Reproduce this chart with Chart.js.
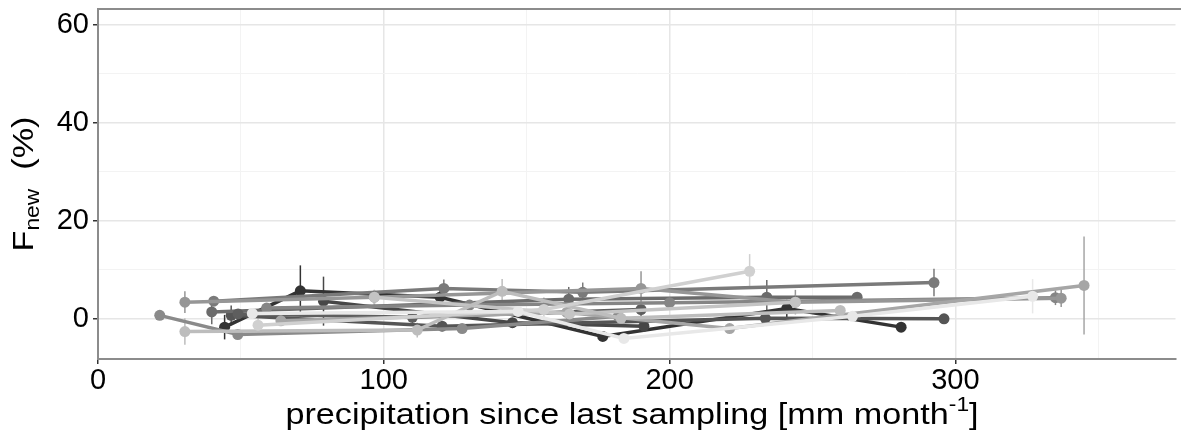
<!DOCTYPE html>
<html>
<head>
<meta charset="utf-8">
<script src="https://cdn.jsdelivr.net/npm/chart.js@4"></script>
<style>
  html, body { margin: 0; padding: 0; background: #fff; }
  #wrap { width: 1181px; height: 441px; }
</style>
</head>
<body>
<div id="wrap"><canvas id="myChart" width="1181" height="441"></canvas></div>
<script>
// DONNEES : une ligne par site (x = precipitation, y = Fnew, err = barre d'erreur)

const siteX = [
    [44.3, 70.8, 119.7, 176.6, 241, 281],
    [78.9, 145, 191],
    [46.6, 120.4, 233.5, 296],
    [39.8, 164.7, 234, 265.6],
    [49, 110, 190],
    [40.5, 121, 169.6, 292.5],
    [59, 130, 200, 335],
    [21.6, 48.9, 127.4, 182],
    [30.4, 96.7, 190, 244, 337],
    [64, 164, 221, 345],
    [96.7, 165, 244],
    [30.4, 111.7, 141.4, 183, 259.7],
    [56, 156, 228],
    [54, 147, 184, 264, 327],
];

const siteY = [
    [-1.7, 5.7, 4.4, -3.6, 2.1, -1.7],
    [3.6, -0.8, -1.5],
    [0.7, -1.5, 0.1, 0],
    [1.4, 4.0, 4.4, 4.4],
    [1.0, 0.3, 1.9],
    [3.6, 6.2, 5.4, 7.4],
    [2.2, 2.8, 3.3, 4.3],
    [0.7, -3.2, -2.0, 0.5],
    [3.4, 4.4, 6.2, 3.4, 4.2],
    [-0.4, 1.3, -2, 6.8],
    [4.4, 1.0, 3.4],
    [-2.6, -2.3, 5.6, 0.1, 1.7],
    [-1.3, 1.9, 9.7],
    [1.1, 1.5, -4, 0.5, 4.6],
];

const siteErr = [
    [2.5, 5.2, 1.5, 0.5, 1.8, 0.5],
    [5, 1, 0.5],
    [2, 0.5, 0.5, 0.5],
    [2.5, 2.5, 3.5, 0.5],
    [0.5, 1.5, 1.5],
    [0.5, 1.8, 2, 2.8],
    [0.5, 0.5, 0.5, 1.5],
    [0.5, 0.5, 0.5, 0.5],
    [2.2, 1.5, 3.5, 2.5, 1.8],
    [1, 3, 0.5, 10],
    [1.5, 2.5, 1.5],
    [2.7, 1.5, 2.5, 0.5, 0.5],
    [2, 2.5, 3.5],
    [0.5, 0.5, 0.5, 0.5, 3.5],
];

const xTicks = [0, 100, 200, 300];
const yTicks = [0, 20, 40, 60];

// couleurs (gris)
const greys = ['#333333', '#474747', '#555555', '#6b6b6b', '#5e5e5e', '#7a7a7a', '#858585',
               '#8a8a8a', '#969696', '#a6a6a6', '#c4c4c4', '#bdbdbd', '#d0d0d0', '#e8e8e8'];

const datasets = siteX.map((xs, i) => ({
    data: xs.map((x, j) => ({ x: x, y: siteY[i][j], err: siteErr[i][j] })),
    showLine: true,
    borderColor: greys[i],
    backgroundColor: greys[i],
    borderWidth: 3.5,
    pointRadius: 5.5,
    pointBorderWidth: 0,
    pointHoverRadius: 5.5,
    order: siteX.length - i,
}));

// barres d'erreur + bordure du haut + titres
const extras = {
    id: 'extras',
    beforeDatasetsDraw(chart) {
        const ctx = chart.ctx;
        const xs = chart.scales.x, ys = chart.scales.y;
        ctx.save();
        ctx.lineWidth = 1.5;
        chart.data.datasets.forEach((ds) => {
            ctx.strokeStyle = ds.borderColor;
            ds.data.forEach((p) => {
                const px = xs.getPixelForValue(p.x);
                ctx.beginPath();
                ctx.moveTo(px, ys.getPixelForValue(p.y - p.err));
                ctx.lineTo(px, ys.getPixelForValue(p.y + p.err));
                ctx.stroke();
            });
        });
        ctx.restore();
    },
    afterDraw(chart) {
        const ctx = chart.ctx;
        const a = chart.chartArea;
        ctx.save();
        ctx.strokeStyle = '#8c8c8c';
        ctx.lineWidth = 2;
        ctx.beginPath();
        ctx.moveTo(a.left, a.top);
        ctx.lineTo(chart.width, a.top);
        ctx.stroke();

        ctx.fillStyle = '#000';
        ctx.textBaseline = 'alphabetic';
        const big = '30px "Liberation Sans", Arial, sans-serif';
        const small = '20px "Liberation Sans", Arial, sans-serif';
        const stretch = 1.14;

        // titre x avec exposant
        const t1 = 'precipitation since last sampling [mm month';
        const t2 = '-1';
        const t3 = ']';
        ctx.font = big; const w1 = ctx.measureText(t1).width, w3 = ctx.measureText(t3).width;
        ctx.font = small; const w2 = ctx.measureText(t2).width;
        ctx.save();
        ctx.translate(632, 424);
        ctx.scale(stretch, 1);
        let x0 = -(w1 + w2 + w3) / 2;
        ctx.font = big; ctx.fillText(t1, x0, 0);
        ctx.font = small; ctx.fillText(t2, x0 + w1, -13);
        ctx.font = big; ctx.fillText(t3, x0 + w1 + w2, 0);
        ctx.restore();

        // titre y avec indice
        ctx.translate(33, 184);
        ctx.rotate(-Math.PI / 2);
        ctx.scale(stretch, 1);
        const s1 = 'F', s2 = 'new', s3 = '  (%)';
        ctx.font = big; const v1 = ctx.measureText(s1).width, v3 = ctx.measureText(s3).width;
        ctx.font = small; const v2 = ctx.measureText(s2).width;
        let y0 = -(v1 + v2 + v3) / 2;
        ctx.font = big; ctx.fillText(s1, y0, 0);
        ctx.font = small; ctx.fillText(s2, y0 + v1, 6);
        ctx.font = big; ctx.fillText(s3, y0 + v1 + v2, 0);
        ctx.restore();
    }
};

const tickFont = { family: '"Liberation Sans", Arial, sans-serif', size: 29 };

const config = {
    type: 'scatter',
    data: { datasets: datasets },
    options: {
        responsive: false,
        animation: false,
        layout: { padding: { left: 0, right: 3, top: 0, bottom: 0 } },
        plugins: { legend: { display: false }, tooltip: { enabled: false } },
        scales: {
            x: {
                type: 'linear',
                min: 0,
                max: 377,
                afterFit: (s) => { s.height = 82; },
                afterBuildTicks: (s) => {
                    s.ticks = [0, 50, 100, 150, 200, 250, 300, 350].map(v => ({ value: v }));
                },
                ticks: {
                    color: '#000',
                    font: tickFont,
                    padding: 0,
                    maxRotation: 0,
                    autoSkip: false,
                    callback: (v) => xTicks.includes(v) ? String(v) : '',
                },
                grid: {
                    color: (c) => c.tick && xTicks.includes(c.tick.value) ? '#e6e6e6' : '#f3f3f3',
                    lineWidth: (c) => c.tick && xTicks.includes(c.tick.value) ? 1.5 : 1,
                    tickLength: 5,
                    tickColor: (c) => c.tick && xTicks.includes(c.tick.value) ? '#333' : 'rgba(0,0,0,0)',
                },
                border: { color: '#8c8c8c', width: 2 },
            },
            y: {
                type: 'linear',
                min: -8.2,
                max: 63.2,
                afterFit: (s) => { s.width = 98; s.paddingTop = 9; },
                afterBuildTicks: (s) => {
                    s.ticks = [0, 10, 20, 30, 40, 50, 60].map(v => ({ value: v }));
                },
                ticks: {
                    color: '#000',
                    font: tickFont,
                    padding: 4,
                    autoSkip: false,
                    callback: (v) => yTicks.includes(v) ? String(v) : '',
                },
                grid: {
                    color: (c) => c.tick && yTicks.includes(c.tick.value) ? '#e6e6e6' : '#f3f3f3',
                    lineWidth: (c) => c.tick && yTicks.includes(c.tick.value) ? 1.5 : 1,
                    tickLength: 5,
                    tickColor: (c) => c.tick && yTicks.includes(c.tick.value) ? '#333' : 'rgba(0,0,0,0)',
                },
                border: { color: '#8c8c8c', width: 2 },
            },
        },
    },
    plugins: [extras],
};

const myChart = new Chart(document.getElementById('myChart'), config);
</script>
</body>
</html>
